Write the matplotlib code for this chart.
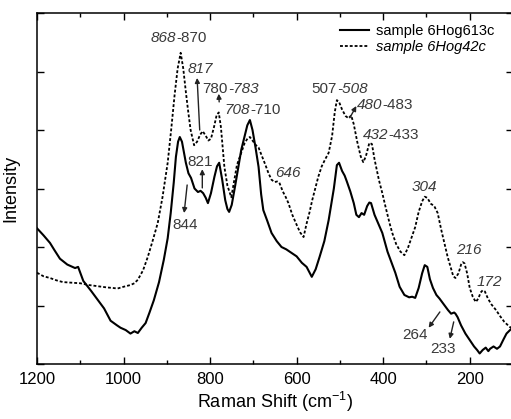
import matplotlib
matplotlib.use("Agg")
import matplotlib.pyplot as plt
from matplotlib.ticker import MultipleLocator
from matplotlib.lines import Line2D

plt.rcParams['font.family'] = ['Liberation Sans', 'DejaVu Sans']
plt.rcParams['mathtext.fontset'] = 'custom'
plt.rcParams['mathtext.rm'] = 'Liberation Sans'
plt.rcParams['mathtext.it'] = 'Liberation Sans:italic'

# ---- data: sample 6Hog613c (solid) ----
w_solid = [1200, 1185, 1170, 1160, 1147, 1130, 1112, 1105, 1093, 1075, 1060, 1045, 1030, 1015,
           1007, 995, 984, 975, 967, 958, 949, 940, 930, 918, 907, 898, 891, 884, 879, 874, 870,
           865, 856, 850, 844, 836, 828, 822, 816, 810, 805, 798, 790, 784, 779, 772, 765, 760,
           756, 750, 742, 735, 728, 720, 714, 708, 702, 695, 688, 682, 677, 668, 658, 646, 635,
           624, 612, 600, 588, 577, 565, 556, 547, 536, 526, 514, 507, 502, 495, 489, 484, 476,
           468, 462, 456, 450, 444, 437, 432, 428, 420, 410, 402, 390, 380, 372, 362, 351, 340,
           333, 326, 318, 310, 304, 298, 292, 285, 277, 270, 264, 258, 250, 243, 236, 233, 228,
           220, 210, 200, 190, 183, 177, 170, 163, 157, 153, 145, 137, 130, 122, 115, 107, 100]
i_solid = [2.32, 2.20, 2.07, 1.95, 1.80, 1.70, 1.64, 1.66, 1.42, 1.25, 1.10, 0.95, 0.74, 0.66,
           0.62, 0.58, 0.52, 0.56, 0.53, 0.62, 0.70, 0.88, 1.09, 1.40, 1.78, 2.15, 2.58, 3.10,
           3.54, 3.80, 3.88, 3.80, 3.44, 3.26, 3.18, 3.00, 2.94, 2.96, 2.92, 2.84, 2.75, 2.92,
           3.20, 3.38, 3.44, 3.15, 2.80, 2.65, 2.60, 2.72, 3.05, 3.35, 3.66, 3.90, 4.08, 4.17,
           4.00, 3.70, 3.37, 2.90, 2.63, 2.45, 2.24, 2.10, 2.00, 1.96, 1.90, 1.84, 1.73, 1.66,
           1.49, 1.62, 1.83, 2.10, 2.46, 3.00, 3.40, 3.44, 3.30, 3.22, 3.12, 2.95, 2.75, 2.55,
           2.51, 2.58, 2.55, 2.70, 2.76, 2.75, 2.55, 2.38, 2.24, 1.92, 1.72, 1.56, 1.32, 1.18,
           1.14, 1.15, 1.13, 1.30, 1.55, 1.69, 1.66, 1.45, 1.30, 1.18, 1.12, 1.06, 1.00, 0.92,
           0.86, 0.88, 0.86, 0.80, 0.66, 0.52, 0.41, 0.30, 0.24, 0.18, 0.24, 0.28, 0.22, 0.26,
           0.30, 0.26, 0.30, 0.42, 0.52, 0.58, 0.63]

# ---- data: sample 6Hog42c (dashed) ----
w_dash = [1200, 1185, 1170, 1155, 1140, 1120, 1100, 1080, 1060, 1040, 1025, 1014, 1000, 984,
          975, 967, 955, 944, 933, 921, 910, 898, 890, 882, 875, 868, 862, 856, 851, 845, 837,
          830, 823, 817, 810, 804, 798, 791, 785, 780, 775, 767, 760, 751, 745, 738, 728, 720,
          713, 708, 700, 694, 688, 680, 672, 665, 658, 651, 645, 640, 632, 625, 619, 610, 600,
          592, 584, 577, 570, 564, 558, 550, 542, 534, 526, 518, 512, 507, 502, 495, 487, 480,
          474, 468, 460, 452, 446, 440, 432, 426, 420, 410, 402, 395, 385, 379, 370, 360, 351,
          343, 335, 326, 318, 310, 304, 298, 290, 282, 274, 266, 258, 251, 244, 238, 233, 226,
          220, 216, 212, 206, 200, 193, 186, 180, 175, 170, 165, 158, 150, 139, 130, 120, 107, 100]
i_dash = [1.56, 1.50, 1.47, 1.43, 1.40, 1.39, 1.38, 1.35, 1.33, 1.31, 1.30, 1.29, 1.32, 1.35,
          1.38, 1.44, 1.60, 1.83, 2.10, 2.41, 2.85, 3.44, 4.00, 4.60, 5.05, 5.32, 5.05, 4.65,
          4.34, 4.00, 3.74, 3.80, 3.92, 3.98, 3.90, 3.82, 3.85, 4.05, 4.25, 4.30, 4.05, 3.37,
          3.05, 2.85, 3.10, 3.40, 3.61, 3.78, 3.86, 3.88, 3.80, 3.74, 3.70, 3.55, 3.40, 3.26,
          3.15, 3.11, 3.12, 3.10, 2.95, 2.85, 2.75, 2.55, 2.38, 2.25, 2.17, 2.40, 2.60, 2.80,
          2.97, 3.20, 3.38, 3.50, 3.61, 3.90, 4.30, 4.51, 4.48, 4.35, 4.24, 4.20, 4.25, 4.10,
          3.80, 3.55, 3.45, 3.55, 3.78, 3.76, 3.50, 3.15, 2.92, 2.70, 2.40, 2.24, 2.05, 1.92,
          1.86, 1.98, 2.15, 2.34, 2.60, 2.78, 2.86, 2.84, 2.74, 2.70, 2.58, 2.30, 2.05, 1.83,
          1.65, 1.50, 1.47, 1.55, 1.70, 1.74, 1.72, 1.55, 1.30, 1.15, 1.06, 1.12, 1.22, 1.26,
          1.24, 1.12, 1.02, 0.92, 0.82, 0.72, 0.63, 0.62]

legend_labels = ["sample 6Hog613c", "sample 6Hog42c"]
x_ticks = [1200, 1000, 800, 600, 400, 200]

fig = plt.figure(figsize=(5.11, 4.19), dpi=100)
ax = fig.add_axes([37/511, 55/419, 476/511, 351/419])

ax.plot(w_solid, i_solid, color='black', lw=1.5, solid_joinstyle='round')
ax.plot(w_dash, i_dash, color='black', lw=1.3, linestyle=(0, (1.6, 1.1)))

ax.set_xlim(1200, 100)
ax.set_ylim(0, 6)
ax.set_xticks(x_ticks)
ax.xaxis.set_minor_locator(MultipleLocator(100))
ax.yaxis.set_major_locator(MultipleLocator(1))
ax.set_yticklabels([])
ax.tick_params(which='both', direction='in', top=True, right=True, width=1.0)
ax.tick_params(which='major', length=5, labelsize=12, pad=6)
ax.tick_params(which='minor', length=3)
for s in ax.spines.values():
    s.set_linewidth(1.1)

ax.set_xlabel(r"Raman Shift (cm$^{\mathregular{-1}}$)", fontsize=13, labelpad=2)
ax.set_ylabel("Intensity", fontsize=13, labelpad=7)

# legend
h = [Line2D([], [], color='black', lw=1.5),
     Line2D([], [], color='black', lw=1.3, linestyle=(0, (1.6, 1.1)))]
leg = fig.legend(h, legend_labels, loc='upper left', bbox_to_anchor=(340/511, 1 - 24/419),
                 frameon=False, fontsize=10.5, handlelength=2.0, handletextpad=0.5,
                 labelspacing=0.15, borderpad=0, borderaxespad=0)
leg.get_texts()[1].set_style('italic')

tc = '#3a3a3a'
fs = 11

def T(x, y, s, ha='center', it=False):
    ax.text(x, y, s, ha=ha, va='center', fontsize=fs, color=tc,
            style='italic' if it else 'normal')

def T2(x, y, a, b, ita, itb):
    T(x, y, a, ha='right', it=ita)
    T(x, y, b, ha='left', it=itb)

def A(xt, yt, xh, yh):
    ax.annotate('', xy=(xh, yh), xytext=(xt, yt),
                arrowprops=dict(arrowstyle='-|>', color='#222222', lw=1.0,
                                mutation_scale=7, shrinkA=0, shrinkB=0))

T2(879, 5.57, "868", "-870", True, False)
T(851, 5.04, "817", ha='left', it=True)
A(824, 4.0, 830, 4.89)
T2(759, 4.70, "780", "-783", False, True)
A(779, 4.48, 780, 4.62)
T2(708, 4.34, "708", "-710", True, False)
T2(507, 4.70, "507", "-508", False, True)
T2(401, 4.43, "480", "-483", True, False)
A(477, 4.21, 462, 4.41)
T2(389, 3.91, "432", "-433", True, False)
T(620, 3.26, "646", it=True)
T(304, 3.03, "304", it=True)
T(201, 1.95, "216", it=True)
T(155, 1.40, "172", it=True)
T(824, 3.45, "821")
A(818, 3.01, 818, 3.33)
T(857, 2.38, "844")
A(853, 3.06, 860, 2.58)
T(327, 0.50, "264")
A(269, 0.89, 295, 0.62)
T(262, 0.26, "233")
A(237, 0.72, 246, 0.43)

fig.savefig("out.png", dpi=100)
